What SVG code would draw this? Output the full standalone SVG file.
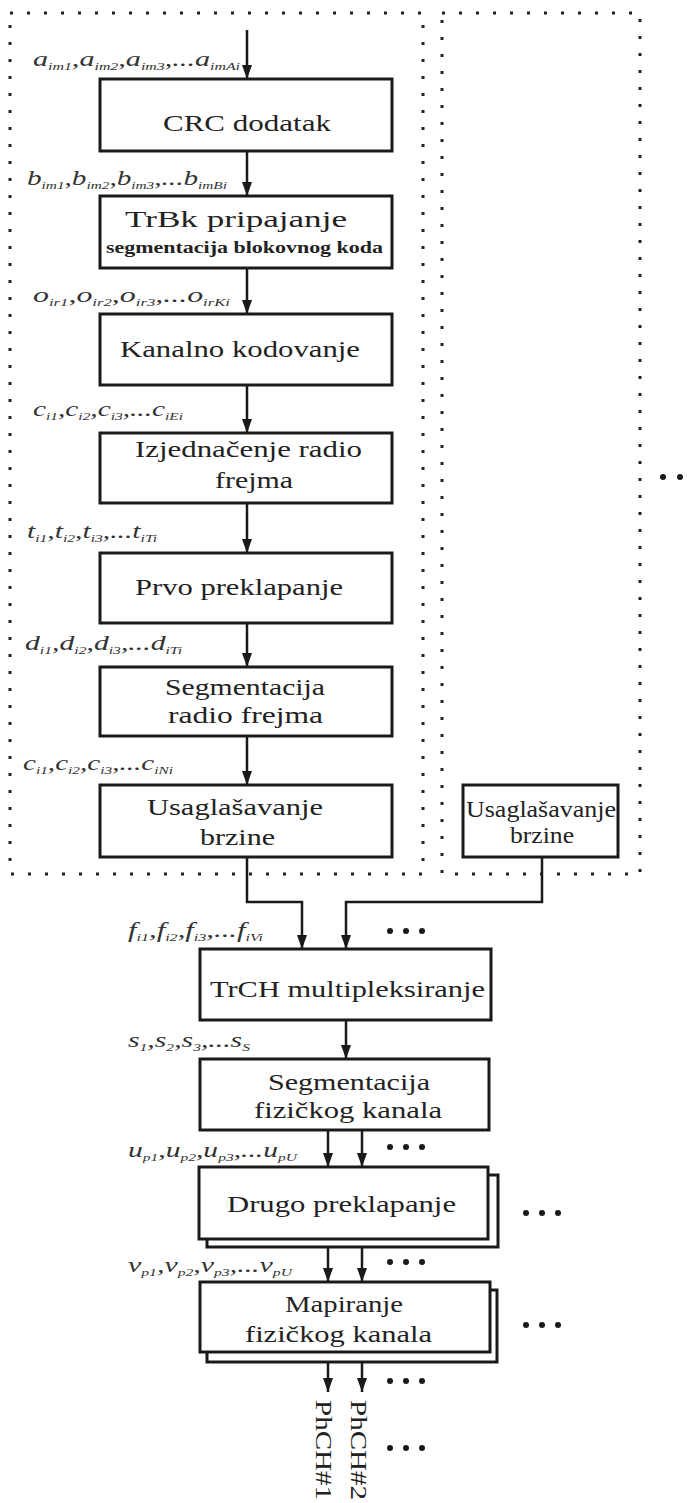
<svg xmlns="http://www.w3.org/2000/svg" width="687" height="1503" viewBox="0 0 687 1503">
  <style>
    .frame { fill: none; stroke: #222; stroke-width: 3; stroke-dasharray: 3 14; }
    .box { fill: #fff; stroke: #1a1a1a; stroke-width: 3; }
    .t { font-family: "Liberation Serif", "Times New Roman", serif; font-size: 24px; fill: #222; }
    .ts { font-family: "Liberation Serif", "Times New Roman", serif; font-size: 17px; font-weight: bold; fill: #222; }
    .lab { font-family: "Liberation Serif", "Times New Roman", serif; font-style: italic; font-size: 21px; fill: #333; }
    .sub { font-size: 11px; }
    .wire { fill: none; stroke: #1a1a1a; stroke-width: 2.5; }
    .dot { fill: #1a1a1a; }
  </style>
  <defs>
    <marker id="arrow" viewBox="0 0 14 10" refX="14" refY="5" markerWidth="14" markerHeight="10" markerUnits="userSpaceOnUse" orient="auto">
      <path d="M0,0 L14,5 L0,10 z" fill="#1a1a1a"/>
    </marker>
  </defs>
  <rect width="687" height="1503" fill="#fff"/>

  <!-- dotted transport-channel frames -->
  <g id="frames">
    <rect class="frame" x="10" y="13" width="413" height="861"/>
    <rect class="frame" x="442" y="13" width="198" height="861"/>
  </g>

  <!-- connectors -->
  <g id="connectors">
    <path class="wire" d="M247,30 V79" marker-end="url(#arrow)"/>
    <path class="wire" d="M247,151 V196" marker-end="url(#arrow)"/>
    <path class="wire" d="M247,268 V314" marker-end="url(#arrow)"/>
    <path class="wire" d="M247,385 V433" marker-end="url(#arrow)"/>
    <path class="wire" d="M247,503 V553" marker-end="url(#arrow)"/>
    <path class="wire" d="M247,623 V667" marker-end="url(#arrow)"/>
    <path class="wire" d="M247,736 V785" marker-end="url(#arrow)"/>
    <path class="wire" d="M247,857 V902 H302 V949" marker-end="url(#arrow)"/>
    <path class="wire" d="M542,857 V902 H346 V949" marker-end="url(#arrow)"/>
    <path class="wire" d="M346,1020 V1059" marker-end="url(#arrow)"/>
    <path class="wire" d="M328,1130 V1167" marker-end="url(#arrow)"/>
    <path class="wire" d="M362,1130 V1167" marker-end="url(#arrow)"/>
    <path class="wire" d="M328,1247 V1282" marker-end="url(#arrow)"/>
    <path class="wire" d="M362,1247 V1282" marker-end="url(#arrow)"/>
    <path class="wire" d="M328,1362 V1392" marker-end="url(#arrow)"/>
    <path class="wire" d="M362,1362 V1392" marker-end="url(#arrow)"/>
  </g>

  <!-- sequence labels on the connectors -->
  <g id="labels">
    <text class="lab" x="33" y="66" textLength="207" lengthAdjust="spacingAndGlyphs">a<tspan class="sub" dy="4">im1</tspan><tspan dy="-4">,a</tspan><tspan class="sub" dy="4">im2</tspan><tspan dy="-4">,a</tspan><tspan class="sub" dy="4">im3</tspan><tspan dy="-4">,...a</tspan><tspan class="sub" dy="4">imAi</tspan></text>
    <text class="lab" x="27" y="185" textLength="200" lengthAdjust="spacingAndGlyphs">b<tspan class="sub" dy="4">im1</tspan><tspan dy="-4">,b</tspan><tspan class="sub" dy="4">im2</tspan><tspan dy="-4">,b</tspan><tspan class="sub" dy="4">im3</tspan><tspan dy="-4">,...b</tspan><tspan class="sub" dy="4">imBi</tspan></text>
    <text class="lab" x="33" y="302" textLength="197" lengthAdjust="spacingAndGlyphs">o<tspan class="sub" dy="4">ir1</tspan><tspan dy="-4">,o</tspan><tspan class="sub" dy="4">ir2</tspan><tspan dy="-4">,o</tspan><tspan class="sub" dy="4">ir3</tspan><tspan dy="-4">,...o</tspan><tspan class="sub" dy="4">irKi</tspan></text>
    <text class="lab" x="33" y="416" textLength="150" lengthAdjust="spacingAndGlyphs">c<tspan class="sub" dy="4">i1</tspan><tspan dy="-4">,c</tspan><tspan class="sub" dy="4">i2</tspan><tspan dy="-4">,c</tspan><tspan class="sub" dy="4">i3</tspan><tspan dy="-4">,...c</tspan><tspan class="sub" dy="4">iEi</tspan></text>
    <text class="lab" x="27" y="538" textLength="130" lengthAdjust="spacingAndGlyphs">t<tspan class="sub" dy="4">i1</tspan><tspan dy="-4">,t</tspan><tspan class="sub" dy="4">i2</tspan><tspan dy="-4">,t</tspan><tspan class="sub" dy="4">i3</tspan><tspan dy="-4">,...t</tspan><tspan class="sub" dy="4">iTi</tspan></text>
    <text class="lab" x="25" y="650" textLength="157" lengthAdjust="spacingAndGlyphs">d<tspan class="sub" dy="4">i1</tspan><tspan dy="-4">,d</tspan><tspan class="sub" dy="4">i2</tspan><tspan dy="-4">,d</tspan><tspan class="sub" dy="4">i3</tspan><tspan dy="-4">,...d</tspan><tspan class="sub" dy="4">iTi</tspan></text>
    <text class="lab" x="23" y="770" textLength="150" lengthAdjust="spacingAndGlyphs">c<tspan class="sub" dy="4">i1</tspan><tspan dy="-4">,c</tspan><tspan class="sub" dy="4">i2</tspan><tspan dy="-4">,c</tspan><tspan class="sub" dy="4">i3</tspan><tspan dy="-4">,...c</tspan><tspan class="sub" dy="4">iNi</tspan></text>
    <text class="lab" x="128" y="937" textLength="135" lengthAdjust="spacingAndGlyphs">f<tspan class="sub" dy="4">i1</tspan><tspan dy="-4">,f</tspan><tspan class="sub" dy="4">i2</tspan><tspan dy="-4">,f</tspan><tspan class="sub" dy="4">i3</tspan><tspan dy="-4">,...f</tspan><tspan class="sub" dy="4">iVi</tspan></text>
    <text class="lab" x="128" y="1047" textLength="122" lengthAdjust="spacingAndGlyphs">s<tspan class="sub" dy="4">1</tspan><tspan dy="-4">,s</tspan><tspan class="sub" dy="4">2</tspan><tspan dy="-4">,s</tspan><tspan class="sub" dy="4">3</tspan><tspan dy="-4">,...s</tspan><tspan class="sub" dy="4">S</tspan></text>
    <text class="lab" x="128" y="1157" textLength="169" lengthAdjust="spacingAndGlyphs">u<tspan class="sub" dy="4">p1</tspan><tspan dy="-4">,u</tspan><tspan class="sub" dy="4">p2</tspan><tspan dy="-4">,u</tspan><tspan class="sub" dy="4">p3</tspan><tspan dy="-4">,...u</tspan><tspan class="sub" dy="4">pU</tspan></text>
    <text class="lab" x="128" y="1272" textLength="164" lengthAdjust="spacingAndGlyphs">v<tspan class="sub" dy="4">p1</tspan><tspan dy="-4">,v</tspan><tspan class="sub" dy="4">p2</tspan><tspan dy="-4">,v</tspan><tspan class="sub" dy="4">p3</tspan><tspan dy="-4">,...v</tspan><tspan class="sub" dy="4">pU</tspan></text>
  </g>

  <!-- processing blocks -->
  <g id="crc">
    <rect class="box" x="100" y="79" width="292" height="72"/>
    <text class="t" x="163" y="131" textLength="168" lengthAdjust="spacingAndGlyphs">CRC dodatak</text>
  </g>
  <g id="trbk">
    <rect class="box" x="100" y="196" width="292" height="72"/>
    <text class="t" x="125" y="227" textLength="222" lengthAdjust="spacingAndGlyphs">TrBk pripajanje</text>
    <text class="ts" x="106" y="253" textLength="277" lengthAdjust="spacingAndGlyphs">segmentacija blokovnog koda</text>
  </g>
  <g id="kanalno">
    <rect class="box" x="100" y="314" width="292" height="71"/>
    <text class="t" x="120" y="357" textLength="240" lengthAdjust="spacingAndGlyphs">Kanalno kodovanje</text>
  </g>
  <g id="izjednacenje">
    <rect class="box" x="100" y="433" width="292" height="70"/>
    <text class="t" x="135" y="457" textLength="227" lengthAdjust="spacingAndGlyphs">Izjednačenje radio</text>
    <text class="t" x="215" y="488" textLength="78" lengthAdjust="spacingAndGlyphs">frejma</text>
  </g>
  <g id="prvo">
    <rect class="box" x="100" y="553" width="292" height="70"/>
    <text class="t" x="135" y="595" textLength="208" lengthAdjust="spacingAndGlyphs">Prvo preklapanje</text>
  </g>
  <g id="segm-radio">
    <rect class="box" x="100" y="667" width="292" height="69"/>
    <text class="t" x="165" y="695" textLength="160" lengthAdjust="spacingAndGlyphs">Segmentacija</text>
    <text class="t" x="168" y="723" textLength="155" lengthAdjust="spacingAndGlyphs">radio frejma</text>
  </g>
  <g id="usagl-1">
    <rect class="box" x="100" y="785" width="292" height="72"/>
    <text class="t" x="147" y="815" textLength="176" lengthAdjust="spacingAndGlyphs">Usaglašavanje</text>
    <text class="t" x="200" y="845" textLength="75" lengthAdjust="spacingAndGlyphs">brzine</text>
  </g>
  <g id="usagl-2">
    <rect class="box" x="463" y="785" width="155" height="72"/>
    <text class="t" x="466" y="817" textLength="150" lengthAdjust="spacingAndGlyphs">Usaglašavanje</text>
    <text class="t" x="510" y="843" textLength="64" lengthAdjust="spacingAndGlyphs">brzine</text>
  </g>
  <g id="trch-mux">
    <rect class="box" x="200" y="949" width="291" height="71"/>
    <text class="t" x="210" y="997" textLength="275" lengthAdjust="spacingAndGlyphs">TrCH multipleksiranje</text>
  </g>
  <g id="segm-fiz">
    <rect class="box" x="200" y="1059" width="289" height="71"/>
    <text class="t" x="268" y="1090" textLength="162" lengthAdjust="spacingAndGlyphs">Segmentacija</text>
    <text class="t" x="254" y="1118" textLength="188" lengthAdjust="spacingAndGlyphs">fizičkog kanala</text>
  </g>
  <g id="drugo">
    <rect class="box" x="207" y="1175" width="291" height="72"/>
    <rect class="box" x="199" y="1167" width="289" height="72"/>
    <text class="t" x="227" y="1212" textLength="229" lengthAdjust="spacingAndGlyphs">Drugo preklapanje</text>
  </g>
  <g id="mapiranje">
    <rect class="box" x="207" y="1290" width="290" height="72"/>
    <rect class="box" x="200" y="1282" width="290" height="70"/>
    <text class="t" x="285" y="1312" textLength="118" lengthAdjust="spacingAndGlyphs">Mapiranje</text>
    <text class="t" x="245" y="1342" textLength="187" lengthAdjust="spacingAndGlyphs">fizičkog kanala</text>
  </g>

  <!-- physical channel outputs -->
  <g id="phch">
    <text class="t" font-size="26" transform="translate(316,1400) rotate(90)" textLength="100" lengthAdjust="spacingAndGlyphs">PhCH#1</text>
    <text class="t" font-size="26" transform="translate(351,1400) rotate(90)" textLength="100" lengthAdjust="spacingAndGlyphs">PhCH#2</text>
  </g>

  <!-- continuation dots -->
  <g id="ellipses">
    <g transform="translate(0,931)"><circle class="dot" cx="390" cy="0" r="3"/><circle class="dot" cx="406" cy="0" r="3"/><circle class="dot" cx="422" cy="0" r="3"/></g>
    <g transform="translate(0,1147)"><circle class="dot" cx="390" cy="0" r="3"/><circle class="dot" cx="406" cy="0" r="3"/><circle class="dot" cx="422" cy="0" r="3"/></g>
    <g transform="translate(0,1262)"><circle class="dot" cx="390" cy="0" r="3"/><circle class="dot" cx="406" cy="0" r="3"/><circle class="dot" cx="422" cy="0" r="3"/></g>
    <g transform="translate(0,1381)"><circle class="dot" cx="390" cy="0" r="3"/><circle class="dot" cx="406" cy="0" r="3"/><circle class="dot" cx="422" cy="0" r="3"/></g>
    <g transform="translate(0,1448)"><circle class="dot" cx="390" cy="0" r="3"/><circle class="dot" cx="406" cy="0" r="3"/><circle class="dot" cx="422" cy="0" r="3"/></g>
    <g transform="translate(136,1213)"><circle class="dot" cx="390" cy="0" r="3"/><circle class="dot" cx="406" cy="0" r="3"/><circle class="dot" cx="422" cy="0" r="3"/></g>
    <g transform="translate(136,1325)"><circle class="dot" cx="390" cy="0" r="3"/><circle class="dot" cx="406" cy="0" r="3"/><circle class="dot" cx="422" cy="0" r="3"/></g>
    <circle class="dot" cx="663" cy="477" r="3"/>
    <circle class="dot" cx="680" cy="477" r="3"/>
  </g>
</svg>
